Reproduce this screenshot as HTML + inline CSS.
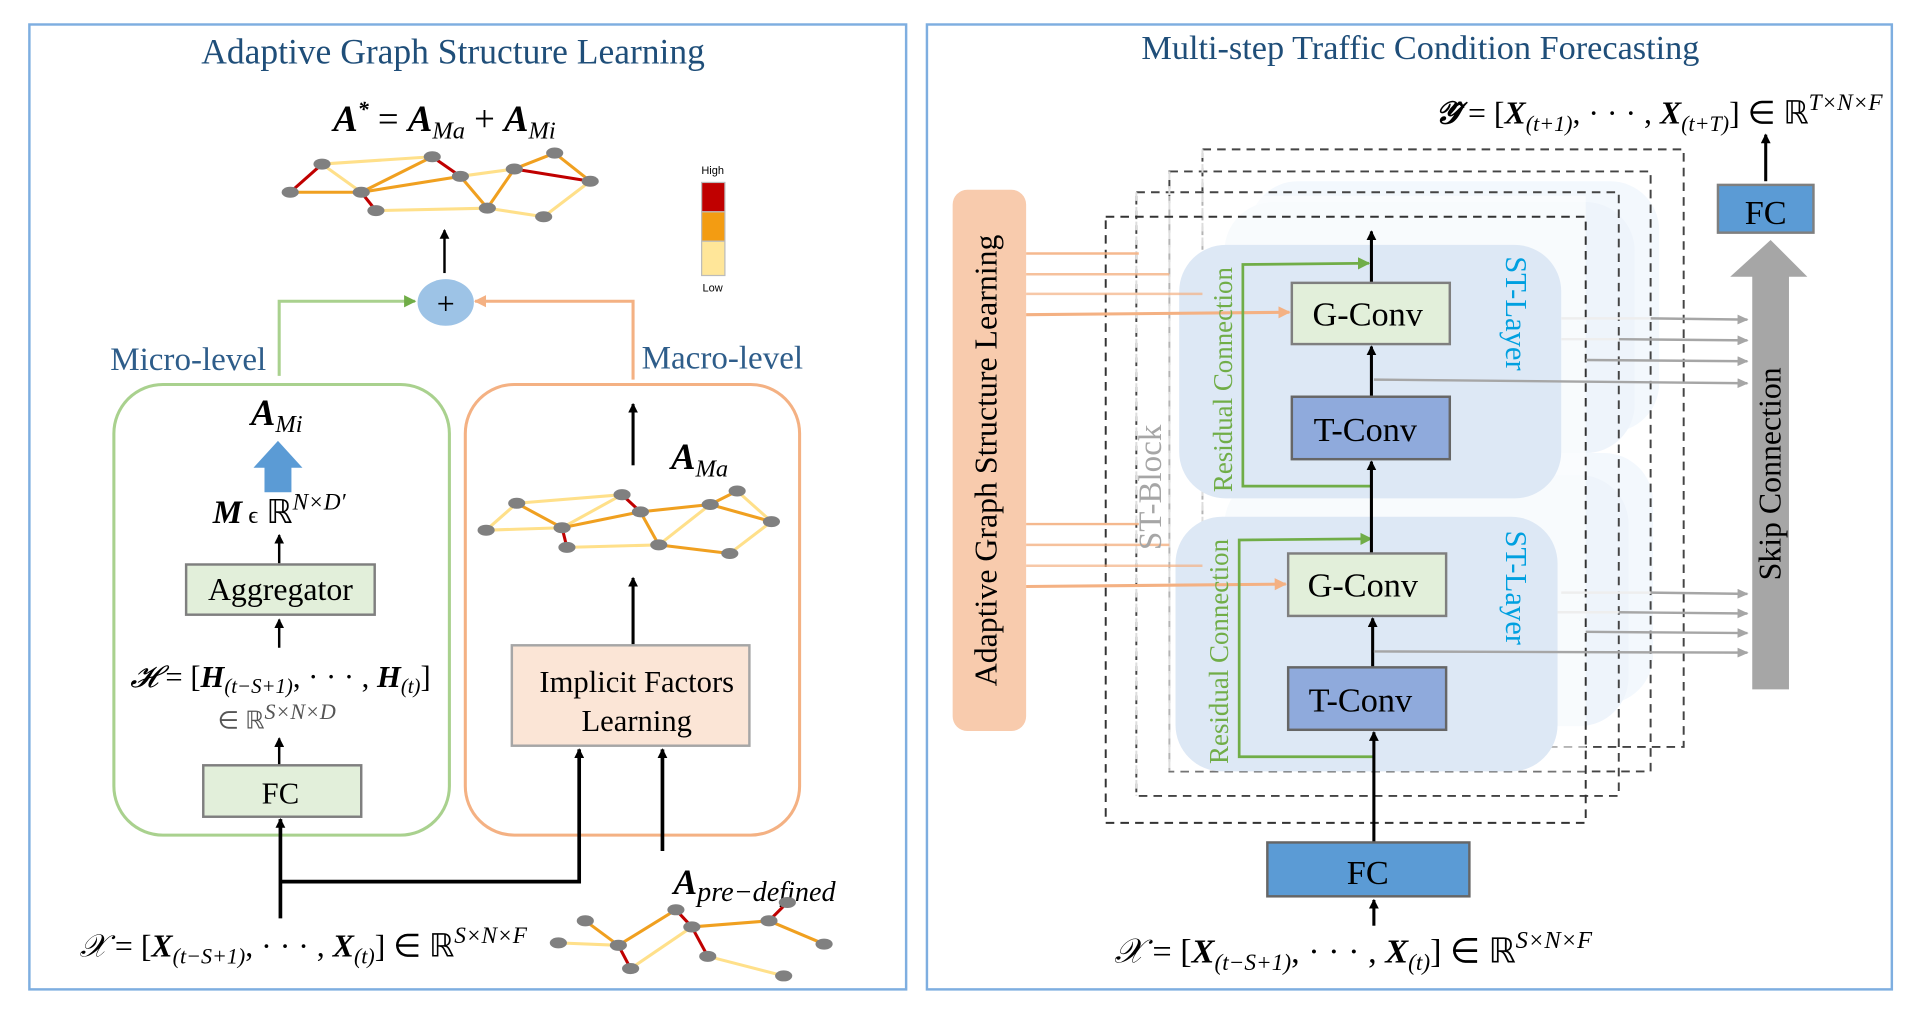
<!DOCTYPE html>
<html><head><meta charset="utf-8"><style>
html,body{margin:0;padding:0;background:#fff;}
svg{display:block;}
text{font-family:"Liberation Serif",serif;}
</style></head><body>
<svg width="1920" height="1020" viewBox="0 0 1568 833" preserveAspectRatio="none" xmlns="http://www.w3.org/2000/svg">
<defs>
<marker id="ab" markerWidth="8" markerHeight="8" refX="7" refY="4" orient="auto" markerUnits="userSpaceOnUse"><path d="M0,0 L8,4 L0,8 z" fill="#000"/></marker>
<marker id="ag" markerWidth="10" markerHeight="10" refX="9" refY="5" orient="auto" markerUnits="userSpaceOnUse"><path d="M0,0 L10,5 L0,10 z" fill="#70ad47"/></marker>
<marker id="ao" markerWidth="10" markerHeight="10" refX="9" refY="5" orient="auto" markerUnits="userSpaceOnUse"><path d="M0,0 L10,5 L0,10 z" fill="#f4b183"/></marker>
<marker id="agr" markerWidth="9" markerHeight="8" refX="8" refY="4" orient="auto" markerUnits="userSpaceOnUse"><path d="M0,0 L9,4 L0,8 z" fill="#a6a6a6"/></marker>
</defs>

<!-- LEFT PANEL -->
<rect x="24" y="20" width="716" height="788" fill="none" stroke="#7eaee0" stroke-width="2"/>
<text x="370" y="52" font-size="29" fill="#1f4e79" text-anchor="middle">Adaptive Graph Structure Learning</text>
<text x="363" y="107" font-size="30" text-anchor="middle" font-weight="bold" font-style="italic">A<tspan font-size="18" dy="-12">*</tspan><tspan dy="12" font-weight="normal" font-style="normal"> = </tspan>A<tspan font-size="20" dy="6" font-weight="normal">Ma</tspan><tspan dy="-6" font-weight="normal" font-style="normal"> + </tspan>A<tspan font-size="20" dy="6" font-weight="normal">Mi</tspan></text>

<!-- top graph -->
<g stroke-width="2.5">
<line x1="263" y1="134" x2="353" y2="128" stroke="#ffe08a"/>
<line x1="263" y1="134" x2="237" y2="157" stroke="#c00000"/>
<line x1="263" y1="134" x2="295" y2="157" stroke="#ffe08a"/>
<line x1="237" y1="157" x2="295" y2="157" stroke="#f0a020"/>
<line x1="295" y1="157" x2="307" y2="172" stroke="#c00000"/>
<line x1="295" y1="157" x2="353" y2="128" stroke="#f0a020"/>
<line x1="295" y1="157" x2="376" y2="144" stroke="#f0a020"/>
<line x1="353" y1="128" x2="376" y2="144" stroke="#c00000"/>
<line x1="376" y1="144" x2="420" y2="138" stroke="#ffe08a"/>
<line x1="376" y1="144" x2="398" y2="170" stroke="#f0a020"/>
<line x1="307" y1="172" x2="398" y2="170" stroke="#ffe08a"/>
<line x1="398" y1="170" x2="420" y2="138" stroke="#f0a020"/>
<line x1="420" y1="138" x2="453" y2="125" stroke="#f0a020"/>
<line x1="420" y1="138" x2="482" y2="148" stroke="#c00000"/>
<line x1="453" y1="125" x2="482" y2="148" stroke="#f0a020"/>
<line x1="398" y1="170" x2="444" y2="177" stroke="#ffe08a"/>
<line x1="444" y1="177" x2="482" y2="148" stroke="#ffe08a"/>
</g>
<g fill="#808080">
<ellipse cx="263" cy="134" rx="7" ry="4.5"/><ellipse cx="237" cy="157" rx="7" ry="4.5"/><ellipse cx="295" cy="157" rx="7" ry="4.5"/><ellipse cx="307" cy="172" rx="7" ry="4.5"/><ellipse cx="353" cy="128" rx="7" ry="4.5"/><ellipse cx="376" cy="144" rx="7" ry="4.5"/><ellipse cx="420" cy="138" rx="7" ry="4.5"/><ellipse cx="453" cy="125" rx="7" ry="4.5"/><ellipse cx="482" cy="148" rx="7" ry="4.5"/><ellipse cx="398" cy="170" rx="7" ry="4.5"/><ellipse cx="444" cy="177" rx="7" ry="4.5"/>
</g>
<!-- legend -->
<text x="582" y="142" font-size="9" text-anchor="middle" style="font-family:'Liberation Sans',sans-serif">High</text>
<rect x="573" y="149" width="19" height="24" fill="#c00000" stroke="#bbb"/>
<rect x="573" y="173" width="19" height="24" fill="#f39c12" stroke="#bbb"/>
<rect x="573" y="197" width="19" height="28" fill="#ffe699" stroke="#bbb"/>
<text x="582" y="238" font-size="9" text-anchor="middle" style="font-family:'Liberation Sans',sans-serif">Low</text>

<line x1="363" y1="223" x2="363" y2="188" stroke="#000" stroke-width="2" marker-end="url(#ab)"/>
<ellipse cx="364" cy="247" rx="23" ry="19" fill="#9dc3e6"/>
<text x="364" y="257" font-size="26" text-anchor="middle">+</text>
<polyline points="228,307 228,246 339,246" fill="none" stroke="#a9d18e" stroke-width="2.5" marker-end="url(#ag)"/>
<polyline points="517,310 517,246 388,246" fill="none" stroke="#f4b183" stroke-width="2.5" marker-end="url(#ao)"/>
<text x="90" y="302" font-size="27" fill="#2e5d8a">Micro-level</text>
<text x="524" y="301" font-size="27" fill="#2e5d8a">Macro-level</text>

<rect x="93" y="314" width="274" height="368" rx="40" fill="none" stroke="#a9d18e" stroke-width="2.5"/>
<rect x="380" y="314" width="273" height="368" rx="40" fill="none" stroke="#f4b183" stroke-width="2.5"/>

<text x="226" y="347" font-size="30" text-anchor="middle" font-weight="bold" font-style="italic">A<tspan font-size="20" dy="6" font-weight="normal">Mi</tspan></text>
<path d="M216,402 L216,382 L207,382 L227,360 L247,382 L238,382 L238,402 z" fill="#5b9bd5"/>
<text x="228" y="427" font-size="27" text-anchor="middle"><tspan font-weight="bold" font-style="italic">M</tspan><tspan font-size="20"> ϵ</tspan> ℝ<tspan font-size="19" dy="-11" font-style="italic">N×D′</tspan></text>
<line x1="228" y1="460" x2="228" y2="437" stroke="#000" stroke-width="2" marker-end="url(#ab)"/>
<rect x="152" y="461" width="154" height="41" fill="#e2efda" stroke="#7f7f7f" stroke-width="2"/>
<text x="229" y="490" font-size="26" text-anchor="middle">Aggregator</text>
<line x1="228" y1="529" x2="228" y2="506" stroke="#000" stroke-width="2" marker-end="url(#ab)"/>
<text x="229" y="561" font-size="25" text-anchor="middle"><tspan font-style="italic">𝓗</tspan> = [<tspan font-weight="bold" font-style="italic">H</tspan><tspan font-size="17" dy="5" font-style="italic">(t−S+1)</tspan><tspan dy="-5">, · · · , </tspan><tspan font-weight="bold" font-style="italic">H</tspan><tspan font-size="17" dy="5" font-style="italic">(t)</tspan><tspan dy="-5">]</tspan></text>
<text x="226" y="595" font-size="20" text-anchor="middle" fill="#555">∈ ℝ<tspan font-size="18" dy="-8" font-style="italic">S×N×D</tspan></text>
<line x1="228" y1="625" x2="228" y2="603" stroke="#000" stroke-width="2" marker-end="url(#ab)"/>
<rect x="166" y="625" width="129" height="42" fill="#e2efda" stroke="#7f7f7f" stroke-width="2"/>
<text x="229" y="656" font-size="25" text-anchor="middle">FC</text>

<line x1="229" y1="750" x2="229" y2="669" stroke="#000" stroke-width="3" marker-end="url(#ab)"/>
<polyline points="229,720 473,720 473,612" fill="none" stroke="#000" stroke-width="3" marker-end="url(#ab)"/>
<line x1="541" y1="695" x2="541" y2="612" stroke="#000" stroke-width="3" marker-end="url(#ab)"/>

<!-- macro -->
<line x1="517" y1="380" x2="517" y2="330" stroke="#000" stroke-width="2.5" marker-end="url(#ab)"/>
<text x="548" y="383" font-size="30" font-weight="bold" font-style="italic">A<tspan font-size="20" dy="6" font-weight="normal">Ma</tspan></text>
<g stroke-width="2.5">
<line x1="422" y1="411" x2="508" y2="404" stroke="#ffe08a"/>
<line x1="422" y1="411" x2="459" y2="431" stroke="#f0a020"/>
<line x1="397" y1="433" x2="422" y2="411" stroke="#ffe08a"/>
<line x1="397" y1="433" x2="459" y2="431" stroke="#ffe08a"/>
<line x1="459" y1="431" x2="463" y2="447" stroke="#c00000"/>
<line x1="459" y1="431" x2="508" y2="404" stroke="#ffe08a"/>
<line x1="459" y1="431" x2="523" y2="418" stroke="#f0a020"/>
<line x1="508" y1="404" x2="523" y2="418" stroke="#c00000"/>
<line x1="523" y1="418" x2="580" y2="412" stroke="#f0a020"/>
<line x1="523" y1="418" x2="538" y2="445" stroke="#f0a020"/>
<line x1="463" y1="447" x2="538" y2="445" stroke="#ffe08a"/>
<line x1="538" y1="445" x2="580" y2="412" stroke="#ffe08a"/>
<line x1="580" y1="412" x2="602" y2="401" stroke="#f0a020"/>
<line x1="580" y1="412" x2="630" y2="426" stroke="#f0a020"/>
<line x1="602" y1="401" x2="630" y2="426" stroke="#ffe08a"/>
<line x1="538" y1="445" x2="596" y2="452" stroke="#f0a020"/>
<line x1="596" y1="452" x2="630" y2="426" stroke="#ffe08a"/>
</g>
<g fill="#808080">
<ellipse cx="422" cy="411" rx="7" ry="4.5"/><ellipse cx="397" cy="433" rx="7" ry="4.5"/><ellipse cx="459" cy="431" rx="7" ry="4.5"/><ellipse cx="463" cy="447" rx="7" ry="4.5"/><ellipse cx="508" cy="404" rx="7" ry="4.5"/><ellipse cx="523" cy="418" rx="7" ry="4.5"/><ellipse cx="580" cy="412" rx="7" ry="4.5"/><ellipse cx="602" cy="401" rx="7" ry="4.5"/><ellipse cx="630" cy="426" rx="7" ry="4.5"/><ellipse cx="538" cy="445" rx="7" ry="4.5"/><ellipse cx="596" cy="452" rx="7" ry="4.5"/>
</g>
<line x1="517" y1="528" x2="517" y2="472" stroke="#000" stroke-width="2.5" marker-end="url(#ab)"/>
<rect x="418" y="527" width="194" height="82" fill="#fbe5d6" stroke="#a6a6a6" stroke-width="2"/>
<text x="520" y="565" font-size="25" text-anchor="middle">Implicit Factors</text>
<text x="520" y="597" font-size="25" text-anchor="middle">Learning</text>

<text x="65" y="781" font-size="26"><tspan font-style="italic">𝒳</tspan> = [<tspan font-weight="bold" font-style="italic">X</tspan><tspan font-size="18" dy="6" font-style="italic">(t−S+1)</tspan><tspan dy="-6">, · · · , </tspan><tspan font-weight="bold" font-style="italic">X</tspan><tspan font-size="18" dy="6" font-style="italic">(t)</tspan><tspan dy="-6">]  ∈ ℝ</tspan><tspan font-size="19" dy="-11" font-style="italic">S×N×F</tspan></text>
<text x="550" y="730" font-size="29" font-weight="bold" font-style="italic">A<tspan font-size="23" dy="6" font-weight="normal">pre−defined</tspan></text>
<g stroke-width="2.5">
<line x1="478" y1="752" x2="505" y2="772" stroke="#f0a020"/>
<line x1="456" y1="770" x2="505" y2="772" stroke="#ffe08a"/>
<line x1="505" y1="772" x2="515" y2="791" stroke="#c00000"/>
<line x1="505" y1="772" x2="552" y2="743" stroke="#f0a020"/>
<line x1="552" y1="743" x2="565" y2="757" stroke="#c00000"/>
<line x1="515" y1="791" x2="565" y2="757" stroke="#ffe08a"/>
<line x1="565" y1="757" x2="578" y2="781" stroke="#c00000"/>
<line x1="565" y1="757" x2="628" y2="752" stroke="#f0a020"/>
<line x1="628" y1="752" x2="643" y2="737" stroke="#c00000"/>
<line x1="628" y1="752" x2="673" y2="771" stroke="#f0a020"/>
<line x1="578" y1="781" x2="640" y2="797" stroke="#ffe08a"/>
</g>
<g fill="#808080">
<ellipse cx="456" cy="770" rx="7" ry="4.5"/><ellipse cx="478" cy="752" rx="7" ry="4.5"/><ellipse cx="505" cy="772" rx="7" ry="4.5"/><ellipse cx="515" cy="791" rx="7" ry="4.5"/><ellipse cx="552" cy="743" rx="7" ry="4.5"/><ellipse cx="565" cy="757" rx="7" ry="4.5"/><ellipse cx="628" cy="752" rx="7" ry="4.5"/><ellipse cx="643" cy="737" rx="7" ry="4.5"/><ellipse cx="673" cy="771" rx="7" ry="4.5"/><ellipse cx="578" cy="781" rx="7" ry="4.5"/><ellipse cx="640" cy="797" rx="7" ry="4.5"/>
</g>

<!-- RIGHT PANEL -->
<rect x="757" y="20" width="788" height="788" fill="none" stroke="#7eaee0" stroke-width="2"/>
<text x="1160" y="48" font-size="28" fill="#1f4e79" text-anchor="middle">Multi-step Traffic Condition Forecasting</text>
<text x="1172" y="101" font-size="26"><tspan font-weight="bold" font-style="italic">𝒴̂</tspan> = [<tspan font-weight="bold" font-style="italic">X</tspan><tspan font-size="18" dy="6" font-style="italic">(t+1)</tspan><tspan dy="-6">, · · · , </tspan><tspan font-weight="bold" font-style="italic">X</tspan><tspan font-size="18" dy="6" font-style="italic">(t+T)</tspan><tspan dy="-6">] ∈ ℝ</tspan><tspan font-size="19" dy="-11" font-style="italic">T×N×F</tspan></text>

<!-- ghost layer backgrounds -->
<rect x="1020" y="148" width="335" height="205" rx="40" fill="#f3f8fd"/>
<rect x="1000" y="165" width="335" height="205" rx="40" fill="#eef4fb"/>
<rect x="1020" y="370" width="330" height="205" rx="40" fill="#f3f8fd"/>
<rect x="1000" y="388" width="330" height="205" rx="40" fill="#eef4fb"/>
<!-- dashed blocks back -->
<g fill="none" stroke-dasharray="7,5" stroke-width="1.6">
<rect x="982" y="122" width="393" height="488" stroke="#444"/>
<rect x="955" y="140" width="393" height="490" stroke="#444"/>
<rect x="928" y="157" width="394" height="493" stroke="#444"/>
</g>
<rect x="930" y="160" width="365" height="470" fill="#fff" opacity="0.6"/>
<g fill="none" stroke-dasharray="7,5" stroke-width="1.6" stroke="#ddd">
<path d="M982,122 L982,610"/><path d="M955,140 L955,630"/><path d="M928,157 L928,650"/>
</g>
<rect x="903" y="177" width="392" height="495" fill="none" stroke="#333" stroke-width="1.6" stroke-dasharray="7,5"/>

<!-- ST layers -->
<rect x="963" y="200" width="312" height="207" rx="38" fill="#dde8f5"/>
<rect x="960" y="422" width="312" height="208" rx="38" fill="#dde8f5"/>

<!-- AGSL box -->
<rect x="778" y="155" width="60" height="442" rx="12" fill="#f8cbad"/>
<text transform="translate(814,376) rotate(-90)" font-size="26" text-anchor="middle">Adaptive Graph Structure Learning</text>
<g stroke="#f4b183" stroke-width="2">
<line x1="838" y1="207" x2="930" y2="207" stroke-opacity="0.9"/>
<line x1="838" y1="224" x2="955" y2="224" stroke-opacity="0.8"/>
<line x1="838" y1="240" x2="982" y2="240" stroke-opacity="0.7"/>
<line x1="838" y1="428" x2="930" y2="428" stroke-opacity="0.9"/>
<line x1="838" y1="445" x2="955" y2="445" stroke-opacity="0.8"/>
<line x1="838" y1="462" x2="982" y2="462" stroke-opacity="0.7"/>
</g>
<line x1="838" y1="257" x2="1053" y2="255" stroke="#f4b183" stroke-width="2.5" marker-end="url(#ao)"/>
<line x1="838" y1="479" x2="1050" y2="477" stroke="#f4b183" stroke-width="2.5" marker-end="url(#ao)"/>

<text transform="translate(948,398) rotate(-90)" font-size="27" fill="#a6a6a6" text-anchor="middle">ST-Block</text>
<text transform="translate(1006,310) rotate(-90)" font-size="22" fill="#70ad47" text-anchor="middle">Residual Connection</text>
<text transform="translate(1003,532) rotate(-90)" font-size="22" fill="#70ad47" text-anchor="middle">Residual Connection</text>
<text transform="translate(1230,256) rotate(90)" font-size="25" fill="#00a0e0" text-anchor="middle">ST-Layer</text>
<text transform="translate(1230,480) rotate(90)" font-size="25" fill="#00a0e0" text-anchor="middle">ST-Layer</text>

<!-- residuals -->
<polyline points="1120,397 1015,397 1015,216 1118,215" fill="none" stroke="#70ad47" stroke-width="2.2" marker-end="url(#ag)"/>
<polyline points="1122,618 1012,618 1012,441 1120,440" fill="none" stroke="#70ad47" stroke-width="2.2" marker-end="url(#ag)"/>

<!-- main vertical -->
<line x1="1122" y1="688" x2="1122" y2="598" stroke="#000" stroke-width="2.5" marker-end="url(#ab)"/>
<line x1="1121" y1="545" x2="1121" y2="505" stroke="#000" stroke-width="2.5" marker-end="url(#ab)"/>
<line x1="1120" y1="452" x2="1120" y2="377" stroke="#000" stroke-width="2.5" marker-end="url(#ab)"/>
<line x1="1120" y1="324" x2="1120" y2="283" stroke="#000" stroke-width="2.5" marker-end="url(#ab)"/>
<line x1="1120" y1="231" x2="1120" y2="189" stroke="#000" stroke-width="2.5" marker-end="url(#ab)"/>

<!-- skip lines -->
<g stroke="#a6a6a6" stroke-width="2" fill="none">
<line x1="1122" y1="310" x2="1427" y2="313" marker-end="url(#agr)"/>
<line x1="1348" y1="260" x2="1427" y2="261" marker-end="url(#agr)"/>
<line x1="1322" y1="277" x2="1427" y2="278" marker-end="url(#agr)"/>
<line x1="1295" y1="294" x2="1427" y2="295" marker-end="url(#agr)"/>
<line x1="1122" y1="532" x2="1427" y2="533" marker-end="url(#agr)"/>
<line x1="1348" y1="484" x2="1427" y2="485" marker-end="url(#agr)"/>
<line x1="1322" y1="500" x2="1427" y2="501" marker-end="url(#agr)"/>
<line x1="1295" y1="516" x2="1427" y2="517" marker-end="url(#agr)"/>
</g>
<g stroke="#eee" stroke-width="2"><line x1="1275" y1="260" x2="1348" y2="260"/><line x1="1275" y1="277" x2="1322" y2="277"/><line x1="1275" y1="484" x2="1348" y2="484"/><line x1="1272" y1="500" x2="1322" y2="500"/></g>

<rect x="1055" y="231" width="129" height="50" fill="#e2efda" stroke="#7f7f7f" stroke-width="2"/>
<text x="1117" y="266" font-size="28" text-anchor="middle">G-Conv</text>
<rect x="1055" y="324" width="129" height="51" fill="#8faadc" stroke="#666" stroke-width="2"/>
<text x="1115" y="360" font-size="28" text-anchor="middle">T-Conv</text>
<rect x="1052" y="452" width="129" height="51" fill="#e2efda" stroke="#7f7f7f" stroke-width="2"/>
<text x="1113" y="487" font-size="28" text-anchor="middle">G-Conv</text>
<rect x="1052" y="545" width="129" height="51" fill="#8faadc" stroke="#666" stroke-width="2"/>
<text x="1111" y="581" font-size="28" text-anchor="middle">T-Conv</text>

<!-- skip big arrow -->
<path d="M1431,563 L1431,226 L1413,226 L1446,196 L1476,226 L1461,226 L1461,563 z" fill="#a6a6a6"/>
<text transform="translate(1454,387) rotate(-90)" font-size="26" text-anchor="middle">Skip Connection</text>

<rect x="1403" y="151" width="78" height="39" fill="#5b9bd5" stroke="#7f7f7f" stroke-width="2"/>
<text x="1442" y="183" font-size="28" text-anchor="middle">FC</text>
<line x1="1442" y1="148" x2="1442" y2="110" stroke="#000" stroke-width="2.5" marker-end="url(#ab)"/>

<rect x="1035" y="688" width="165" height="44" fill="#5b9bd5" stroke="#666" stroke-width="2"/>
<text x="1117" y="722" font-size="28" text-anchor="middle">FC</text>
<line x1="1122" y1="756" x2="1122" y2="735" stroke="#000" stroke-width="2.5" marker-end="url(#ab)"/>
<text x="910" y="786" font-size="28"><tspan font-style="italic">𝒳</tspan>  =  [<tspan font-weight="bold" font-style="italic">X</tspan><tspan font-size="19" dy="6" font-style="italic">(t−S+1)</tspan><tspan dy="-6">, · · · , </tspan><tspan font-weight="bold" font-style="italic">X</tspan><tspan font-size="19" dy="6" font-style="italic">(t)</tspan><tspan dy="-6">]  ∈ ℝ</tspan><tspan font-size="20" dy="-12" font-style="italic">S×N×F</tspan></text>
</svg>
</body></html>
